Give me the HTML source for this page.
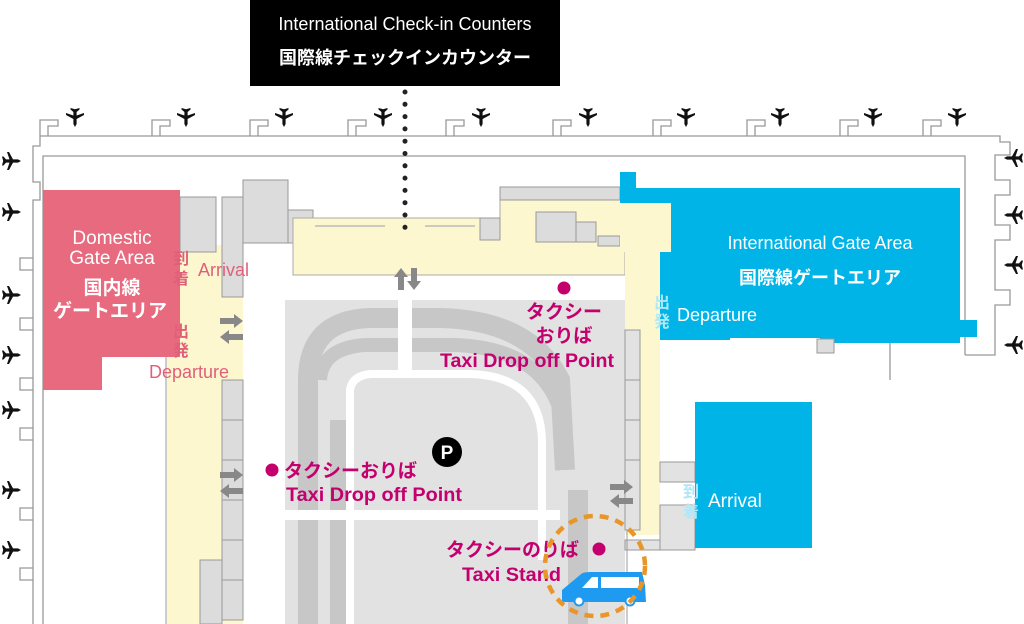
<!DOCTYPE html>
<html><head><meta charset="utf-8"><style>
html,body{margin:0;padding:0;background:#fff;}
svg{display:block;}
text{font-family:"Liberation Sans","Noto Sans CJK JP",sans-serif;}
</style></head><body>
<svg width="1024" height="624" viewBox="0 0 1024 624" xmlns="http://www.w3.org/2000/svg">
<defs>
<path id="pl" d="M0,-9 L1.6,-6 L1.6,-1 L9,3 L9,5 L1.6,2.5 L1.6,6 L4.5,8.5 L4.5,10 L0,8.8 L-4.5,10 L-4.5,8.5 L-1.6,6 L-1.6,2.5 L-9,5 L-9,3 L-1.6,-1 L-1.6,-6Z" fill="#111"/>
</defs>
<rect width="1024" height="624" fill="#fff"/>

<g fill="none" stroke="#999" stroke-width="1.3">
<polyline points="33,624 33,200 40,200 40,182 33,182 33,146 40,146 40,136 1000,136 1000,142 1010,142 1010,155 995,155 995,180 1010,180 1010,195 995,195 995,225 1010,225 1010,240 995,240 995,290 1010,290 1010,305 995,305 995,355 965,355"/>
<polyline points="43,624 43,156 965,156 965,355"/>
<polyline points="40,136 40,120 58,120 58,126 48,126 48,136"/>
<polyline points="152,136 152,120 170,120 170,126 160,126 160,136"/>
<polyline points="250,136 250,120 268,120 268,126 258,126 258,136"/>
<polyline points="348,136 348,120 366,120 366,126 356,126 356,136"/>
<polyline points="446,136 446,120 464,120 464,126 454,126 454,136"/>
<polyline points="553,136 553,120 571,120 571,126 561,126 561,136"/>
<polyline points="653,136 653,120 671,120 671,126 661,126 661,136"/>
<polyline points="747,136 747,120 765,120 765,126 755,126 755,136"/>
<polyline points="840,136 840,120 858,120 858,126 848,126 848,136"/>
<polyline points="923,136 923,120 941,120 941,126 931,126 931,136"/>
<polyline points="33,270 20,270 20,258 33,258"/>
<polyline points="33,330 20,330 20,318 33,318"/>
<polyline points="33,390 20,390 20,378 33,378"/>
<polyline points="33,440 20,440 20,428 33,428"/>
<polyline points="33,520 20,520 20,508 33,508"/>
<polyline points="33,580 20,580 20,568 33,568"/>
<line x1="890" y1="340" x2="890" y2="380"/>
</g>

<g>
<use href="#pl" transform="translate(75,118) rotate(180)"/>
<use href="#pl" transform="translate(186,118) rotate(180)"/>
<use href="#pl" transform="translate(284,118) rotate(180)"/>
<use href="#pl" transform="translate(383,118) rotate(180)"/>
<use href="#pl" transform="translate(481,118) rotate(180)"/>
<use href="#pl" transform="translate(588,118) rotate(180)"/>
<use href="#pl" transform="translate(686,118) rotate(180)"/>
<use href="#pl" transform="translate(780,118) rotate(180)"/>
<use href="#pl" transform="translate(873,118) rotate(180)"/>
<use href="#pl" transform="translate(957,118) rotate(180)"/>
<use href="#pl" transform="translate(12,161) rotate(90)"/>
<use href="#pl" transform="translate(12,212) rotate(90)"/>
<use href="#pl" transform="translate(12,295) rotate(90)"/>
<use href="#pl" transform="translate(12,355) rotate(90)"/>
<use href="#pl" transform="translate(12,410) rotate(90)"/>
<use href="#pl" transform="translate(12,490) rotate(90)"/>
<use href="#pl" transform="translate(12,550) rotate(90)"/>
<use href="#pl" transform="translate(1013,158) rotate(-90)"/>
<use href="#pl" transform="translate(1013,215) rotate(-90)"/>
<use href="#pl" transform="translate(1013,265) rotate(-90)"/>
<use href="#pl" transform="translate(1013,345) rotate(-90)"/>
</g>

<!-- parking / roads -->
<rect x="285" y="300" width="340" height="324" fill="#e2e2e3"/>
<path d="M308,624 L308,380 Q308,320 370,318 L440,318 Q530,320 560,380 L565,470" fill="none" stroke="#c7c7c8" stroke-width="20"/>
<path d="M340,624 L340,420" fill="none" stroke="#c7c7c8" stroke-width="20"/>
<path d="M320,380 Q322,348 365,345 L455,345 Q540,348 560,410 L565,470" fill="none" stroke="#c7c7c8" stroke-width="14"/>
<path d="M350,624 L350,390 Q352,376 370,374 L470,374 Q540,376 542,440 L542,560" fill="none" stroke="#fff" stroke-width="8"/>
<rect x="398" y="300" width="14" height="70" fill="#fff"/>
<rect x="285" y="510" width="340" height="10" fill="#fff"/>
<rect x="560" y="470" width="65" height="154" fill="#e2e2e3"/>
<rect x="568" y="490" width="20" height="134" fill="#c7c7c8"/>

<rect x="165" y="245" width="78" height="379" fill="#fdf7cf"/>
<g fill="#dcdcdd" stroke="#999" stroke-width="1">
<rect x="180" y="197" width="36" height="55"/>
<rect x="222" y="197" width="21" height="100"/>
<rect x="222" y="380" width="21" height="240"/>
<line x1="222" y1="420" x2="243" y2="420"/><line x1="222" y1="460" x2="243" y2="460"/><line x1="222" y1="500" x2="243" y2="500"/><line x1="222" y1="540" x2="243" y2="540"/><line x1="222" y1="580" x2="243" y2="580"/>
<rect x="243" y="180" width="45" height="63"/>
<rect x="288" y="210" width="25" height="33"/>
<rect x="200" y="560" width="22" height="64"/>
</g>
<rect x="165" y="245" width="2" height="380" fill="#ccc"/>

<path d="M43,190 L180,190 L180,357 L102,357 L102,390 L43,390Z" fill="#e86a7f"/>

<path d="M293,218 L500,218 L500,200 L625,200 L625,275 L293,275Z" fill="#fdf7cf" stroke="#aaa" stroke-width="1"/>
<line x1="315" y1="226" x2="385" y2="226" stroke="#bbb" stroke-width="1.5"/>
<line x1="425" y1="226" x2="475" y2="226" stroke="#bbb" stroke-width="1.5"/>
<g fill="#dcdcdd" stroke="#999" stroke-width="1">
<rect x="480" y="218" width="20" height="22"/>
<rect x="500" y="187" width="120" height="13"/>
<rect x="536" y="212" width="40" height="30"/>
<rect x="576" y="222" width="20" height="20"/>
<rect x="598" y="236" width="22" height="10"/>
</g>

<!-- right cream corridor -->
<rect x="620" y="203" width="51" height="49" fill="#fdf7cf"/>
<rect x="625" y="200" width="35" height="335" fill="#fdf7cf"/>
<g fill="#e2e2e3" stroke="#999" stroke-width="1">
<rect x="625" y="330" width="15" height="200"/>
<line x1="625" y1="380" x2="640" y2="380"/><line x1="625" y1="420" x2="640" y2="420"/><line x1="625" y1="460" x2="640" y2="460"/>
<rect x="660" y="462" width="35" height="20"/>
<rect x="660" y="505" width="35" height="45"/>
<rect x="625" y="540" width="35" height="10"/>
</g>
<line x1="627" y1="530" x2="627" y2="624" stroke="#999"/>

<!-- blue international -->
<path d="M620,172 L636,172 L636,188 L960,188 L960,320 L977,320 L977,337 L960,337 L960,343 L820,343 L820,338 L730,338 L730,340 L660,340 L660,252 L671,252 L671,203 L620,203Z" fill="#00b4e8"/>
<rect x="817" y="339" width="17" height="14" fill="#ddd" stroke="#999"/>
<rect x="695" y="402" width="117" height="146" fill="#00b4e8"/>

<rect x="250" y="0" width="310" height="86" fill="#000"/>
<text x="405" y="30" fill="#fff" font-size="18" text-anchor="middle">International Check-in Counters</text>
<text x="405" y="64" fill="#fff" font-size="18" font-weight="bold" text-anchor="middle">国際線チェックインカウンター</text>
<line x1="405" y1="92" x2="405" y2="232" stroke="#222" stroke-width="5" stroke-linecap="round" stroke-dasharray="0 12.3"/>

<g fill="#888">
<path d="M398,290 L398,277 L394,277 L401,268 L408,277 L404,277 L404,290Z"/>
<path d="M411,268 L417,268 L417,281 L421,281 L414,290 L407,281 L411,281Z"/>
<path d="M220,318 L234,318 L234,314 L243,321 L234,328 L234,324 L220,324Z"/>
<path d="M243,334 L229,334 L229,330 L220,337 L229,344 L229,340 L243,340Z"/>
<path d="M220,472 L234,472 L234,468 L243,475 L234,482 L234,478 L220,478Z"/>
<path d="M243,488 L229,488 L229,484 L220,491 L229,498 L229,494 L243,494Z"/>
<path d="M610,484 L624,484 L624,480 L633,487 L624,494 L624,490 L610,490Z"/>
<path d="M633,498 L619,498 L619,494 L610,501 L619,508 L619,504 L633,504Z"/>
</g>

<g fill="#fff" text-anchor="middle">
<text x="112" y="244" font-size="19">Domestic</text>
<text x="112" y="264" font-size="19">Gate Area</text>
<text x="112" y="294" font-size="19" font-weight="bold">国内線</text>
<text x="110" y="317" font-size="19" font-weight="bold">ゲートエリア</text>
<text x="820" y="249" font-size="18">International Gate Area</text>
<text x="820" y="284" font-size="18" font-weight="bold">国際線ゲートエリア</text>
</g>
<g fill="#e0607a" font-size="18">
<text x="173" y="264" font-size="16" font-weight="bold">到</text>
<text x="173" y="284" font-size="16" font-weight="bold">着</text>
<text x="198" y="276">Arrival</text>
<text x="173" y="337" font-size="16" font-weight="bold">出</text>
<text x="173" y="356" font-size="16" font-weight="bold">発</text>
<text x="149" y="378">Departure</text>
</g>
<g fill="#aee8f8" font-size="16" font-weight="bold">
<text x="654" y="308">出</text><text x="654" y="327">発</text>
<text x="683" y="497">到</text><text x="683" y="517">着</text>
</g>
<text x="677" y="321" fill="#fff" font-size="18">Departure</text>
<text x="708" y="507" fill="#fff" font-size="19">Arrival</text>

<circle cx="447" cy="452" r="15" fill="#000"/>
<text x="447" y="459" fill="#fff" font-size="19" font-weight="bold" text-anchor="middle">P</text>

<g fill="#c4006e" font-weight="bold" font-size="19">
<circle cx="564" cy="288" r="6.5"/>
<text x="564" y="318" text-anchor="middle">タクシー</text>
<text x="564" y="342" text-anchor="middle">おりば</text>
<text x="527" y="367" text-anchor="middle" textLength="174" lengthAdjust="spacingAndGlyphs">Taxi Drop off Point</text>
<circle cx="272" cy="470" r="6.5"/>
<text x="284" y="477">タクシーおりば</text>
<text x="286" y="501" textLength="176" lengthAdjust="spacingAndGlyphs">Taxi Drop off Point</text>
<text x="446" y="556">タクシーのりば</text>
<circle cx="599" cy="549" r="6.5"/>
<text x="462" y="581" textLength="99" lengthAdjust="spacingAndGlyphs">Taxi Stand</text>
</g>

<g fill="#1e9af0">
<path d="M562,602 L562,590 L580,575 Q582,572 590,572 L642,572 L645,585 L646,602Z"/>
</g>
<g fill="#fff">
<path d="M582,588 L592,577 L598,577 L598,588Z"/>
<rect x="601" y="577" width="38" height="11"/>
<circle cx="579" cy="601" r="4.5" stroke="#1e9af0" stroke-width="2"/>
<circle cx="630" cy="601" r="4.5" stroke="#1e9af0" stroke-width="2"/>
</g>
<circle cx="595" cy="566" r="50" fill="none" stroke="#e8962a" stroke-width="4.5" stroke-dasharray="9 7"/>
</svg>
</body></html>
